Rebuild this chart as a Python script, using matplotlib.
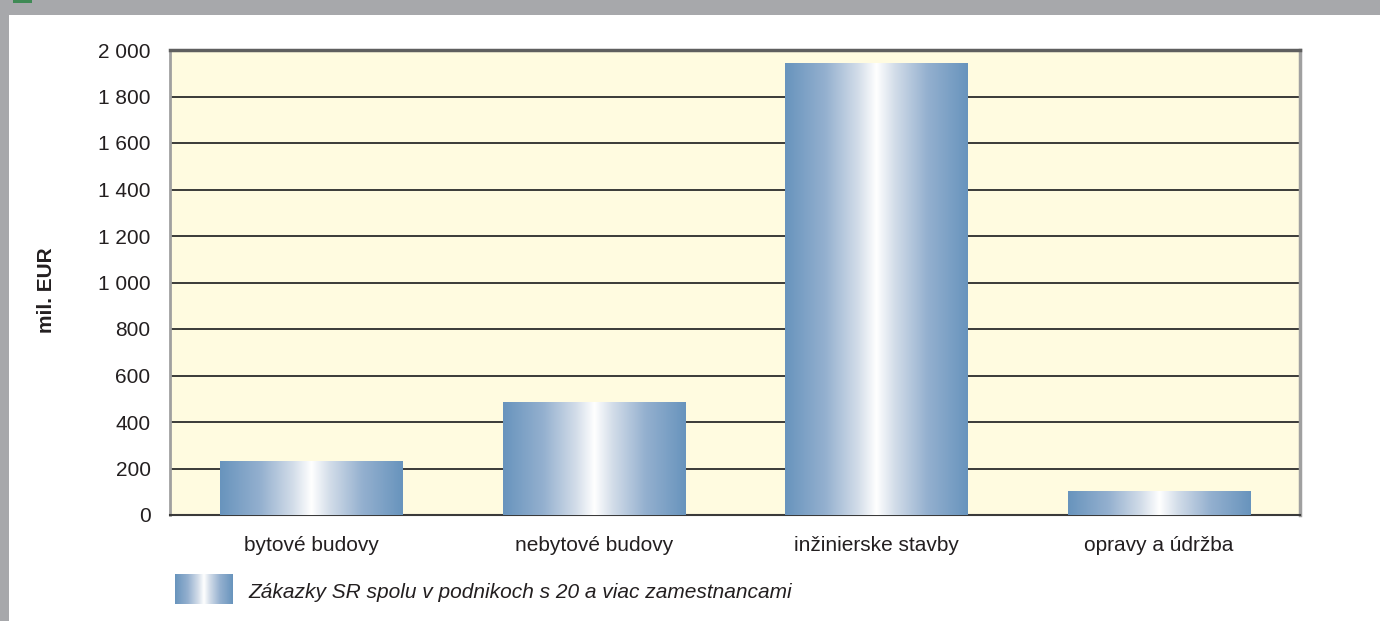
import numpy as np
import matplotlib
matplotlib.use("Agg")
import matplotlib.pyplot as plt
from matplotlib.colors import LinearSegmentedColormap
from matplotlib.patches import Rectangle

categories = ["bytové budovy", "nebytové budovy", "inžinierske stavby", "opravy a údržba"]
values = [232, 482, 1940, 99]
yticks = [0, 200, 400, 600, 800, 1000, 1200, 1400, 1600, 1800, 2000]
ytick_labels = ["0", "200", "400", "600", "800", "1 000", "1 200", "1 400", "1 600", "1 800", "2 000"]
ylabel = "mil. EUR"
legend_label = "Zákazky SR spolu v podnikoch s 20 a viac zamestnancami"

FONT = ["Liberation Sans Narrow", "Liberation Sans", "DejaVu Sans"]
plt.rcParams["font.family"] = FONT

W, H = 1380, 621
fig = plt.figure(figsize=(W / 100, H / 100), dpi=100)
fig.patch.set_facecolor("white")

# Frame decoration: gray band on top and left
fig.patches.append(Rectangle((0, 1 - 15 / H), 1, 15 / H, transform=fig.transFigure,
                             facecolor="#a7a8ab", edgecolor="none", zorder=0))
fig.patches.append(Rectangle((0, 0), 9 / W, 1, transform=fig.transFigure,
                             facecolor="#a7a8ab", edgecolor="none", zorder=0))
fig.patches.append(Rectangle((13 / W, 1 - 3 / H), 19 / W, 3 / H, transform=fig.transFigure,
                             facecolor="#3f8a55", edgecolor="none", zorder=1))

cmap = LinearSegmentedColormap.from_list(
    "barg", [(0.0, "#6894bd"), (0.22, "#94b0cf"), (0.40, "#d3dde9"),
             (0.5, "#ffffff"), (0.60, "#d3dde9"), (0.78, "#94b0cf"), (1.0, "#6894bd")])

left, right, top, bottom = 170, 1300, 50, 515
ax = fig.add_axes([left / W, (H - bottom) / H, (right - left) / W, (bottom - top) / H])
ax.set_facecolor("#fffbe0")

x = np.arange(len(categories))
bars = ax.bar(x, values, width=0.645, color="none", edgecolor="none", zorder=3)
grad = np.linspace(0, 1, 256).reshape(1, -1)
for b in bars:
    ax.imshow(grad, cmap=cmap, aspect="auto", zorder=3, interpolation="bilinear",
              extent=[b.get_x(), b.get_x() + b.get_width(), 0, b.get_height()])

ax.set_xlim(-0.5, len(categories) - 0.5)
ax.set_ylim(0, 2000)
ax.set_yticks(yticks)
ax.set_yticklabels(ytick_labels)
ax.set_xticks(x)
ax.set_xticklabels(categories)
ax.tick_params(axis="y", length=0, pad=14, labelsize=15, labelcolor="#231f20")
ax.tick_params(axis="x", length=0, pad=15, labelsize=15, labelcolor="#231f20")

for yv in yticks[1:-1]:
    ax.axhline(yv, color="#2b2b2b", linewidth=1.3, zorder=1)

ax.spines["top"].set_color("#5f5f5f")
ax.spines["top"].set_linewidth(2.5)
ax.spines["bottom"].set_color("#3a3a3a")
ax.spines["bottom"].set_linewidth(1.5)
ax.spines["left"].set_color("#a0a0a0")
ax.spines["left"].set_linewidth(2)
ax.spines["right"].set_color("#a0a0a0")
ax.spines["right"].set_linewidth(2.5)

fig.text(47 / W, 1 - 290 / H, ylabel, rotation=90, ha="center", va="center",
         fontsize=15, fontweight="bold", color="#231f20")

# Legend
lax = fig.add_axes([175 / W, (H - 604) / H, 58 / W, 30 / H])
lax.imshow(grad, cmap=cmap, aspect="auto", interpolation="bilinear")
lax.set_axis_off()
fig.text(248 / W, 1 - 592 / H, legend_label, ha="left", va="center",
         fontsize=15, style="italic", color="#231f20")

fig.savefig("out.png", dpi=100)
